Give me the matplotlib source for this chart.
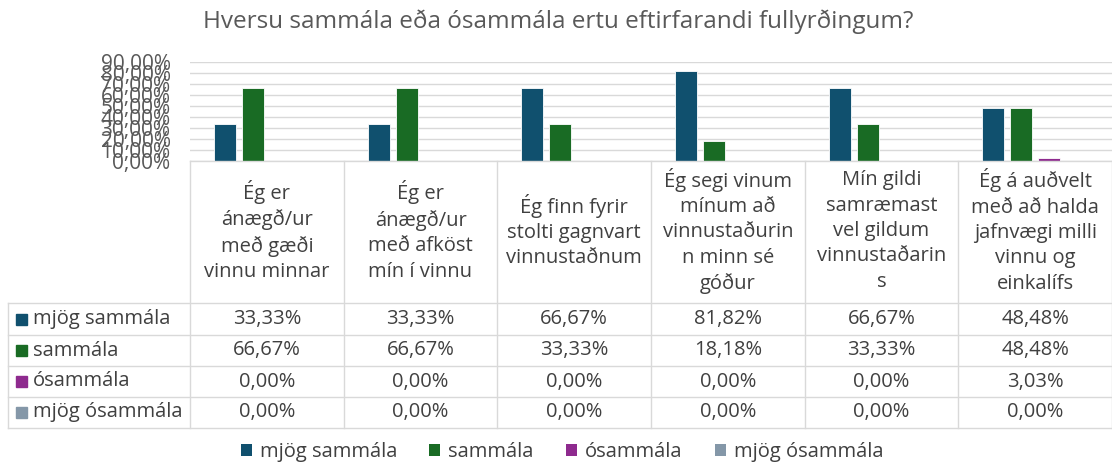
import matplotlib.pyplot as plt
from matplotlib.patches import Patch
import numpy as np

# Gögn lesin af myndinni
flokkar = [
    "Ég er\nánægð/ur\nmeð gæði\nvinnu minnar",
    "Ég er\nánægð/ur\nmeð afköst\nmín í vinnu",
    "Ég finn fyrir\nstolti gagnvart\nvinnustaðnum",
    "Ég segi vinum\nmínum að\nvinnustaðurin\nn minn sé\ngóður",
    "Mín gildi\nsamræmast\nvel gildum\nvinnustaðarin\ns",
    "Ég á auðvelt\nmeð að halda\njafnvægi milli\nvinnu og\neinkalífs",
]
raðir = ["mjög sammála", "sammála", "ósammála", "mjög ósammála"]
mjog_sammala = [33.33, 33.33, 66.67, 81.82, 66.67, 48.48]
sammala = [66.67, 66.67, 33.33, 18.18, 33.33, 48.48]
osammala = [0.00, 0.00, 0.00, 0.00, 0.00, 3.03]
mjog_osammala = [0.00, 0.00, 0.00, 0.00, 0.00, 0.00]
y_ticks = [0, 10, 20, 30, 40, 50, 60, 70, 80, 90]

gildi = [mjog_sammala, sammala, osammala, mjog_osammala]
litir = ['#10506E', '#196B24', '#8E2A8E', '#8497A8']
texti_litur = '#404040'
grid_litur = '#D9D9D9'
plt.rcParams['font.family'] = ['Open Sans', 'DejaVu Sans']
fs = 14.5

W, H = 1112, 462
fig = plt.figure(figsize=(W / 100, H / 100), dpi=100)

# staðsetningar í pixlum
x0, x1 = 190, 1112
y_top, y_bot = 62, 161
rows_y = [303, 335, 366, 397, 428]
col_w = (x1 - x0) / len(flokkar)

ax = fig.add_axes([x0 / W, 1 - y_bot / H, (x1 - x0) / W, (y_bot - y_top) / H])
n = len(flokkar)
x = np.arange(n)
step = 0.182
bw = 0.143
for i, (vals, c) in enumerate(zip(gildi, litir)):
    ax.bar(x + (i - 1.5) * step, vals, width=bw, color=c, edgecolor='white',
           linewidth=0.6, zorder=3)
ax.set_xlim(-0.5, n - 0.5)
ax.set_ylim(0, 90)
ax.set_yticks(y_ticks)
ax.set_yticklabels([f"{v:.2f}".replace('.', ',') + '%' for v in y_ticks],
                   fontsize=15, color='#595959')
ax.tick_params(axis='y', length=0, pad=14)
ax.set_xticks([])
ax.yaxis.grid(True, color=grid_litur, linewidth=1)
ax.set_axisbelow(True)
for s in ax.spines.values():
    s.set_visible(False)

# tafla teiknuð á yfirlagsás í pixlahnitum
ov = fig.add_axes([0, 0, 1, 1])
ov.set_xlim(0, W)
ov.set_ylim(H, 0)
ov.axis('off')
lw = 1
# lóðréttar línur
for j in range(n + 1):
    xx = x0 + j * col_w
    ov.plot([xx, xx], [y_bot, rows_y[-1]], color=grid_litur, lw=lw)
ov.plot([8, 8], [rows_y[0], rows_y[-1]], color=grid_litur, lw=lw)
ov.plot([x0, x1], [y_bot, y_bot], color=grid_litur, lw=lw)
for yy in rows_y:
    ov.plot([8, x1], [yy, yy], color=grid_litur, lw=lw)

# flokkaheiti
for j, lab in enumerate(flokkar):
    ov.text(x0 + (j + 0.5) * col_w, (y_bot + rows_y[0]) / 2 - 1, lab,
            ha='center', va='center', fontsize=fs, color=texti_litur,
            linespacing=1.36)

# gildi í töflu
for r, (nafn, vals, c) in enumerate(zip(raðir, gildi, litir)):
    yc = (rows_y[r] + rows_y[r + 1]) / 2
    ov.add_patch(plt.Rectangle((16, yc - 5.5), 11, 11, color=c))
    ov.text(33, yc, nafn, ha='left', va='center', fontsize=fs, color=texti_litur)
    for j, v in enumerate(vals):
        ov.text(x0 + (j + 0.5) * col_w, yc, f"{v:.2f}".replace('.', ',') + '%',
                ha='center', va='center', fontsize=fs, color=texti_litur)

# titill
fig.text(558 / W, 1 - 22 / H, "Hversu sammála eða ósammála ertu eftirfarandi fullyrðingum?",
         ha='center', va='center', fontsize=17.5, color='#595959')

# skýringar neðst
handles = [Patch(facecolor=c, label=nafn) for nafn, c in zip(raðir, litir)]
fig.legend(handles=handles, loc='center', bbox_to_anchor=(562 / W, 1 - 452 / H), ncol=4,
           frameon=False, fontsize=fs, handlelength=0.55, handleheight=0.55,
           handletextpad=0.4, columnspacing=1.6, labelcolor=texti_litur)

fig.savefig('out.png', dpi=100)
